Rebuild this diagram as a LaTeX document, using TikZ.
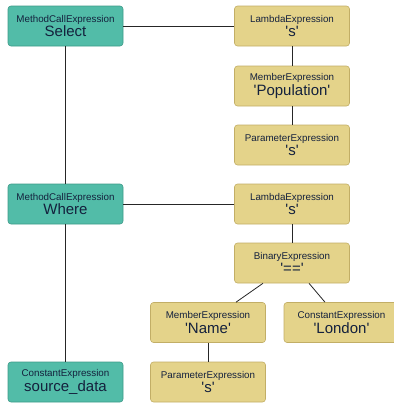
\documentclass[tikz,border=0pt]{standalone}
\usepackage{fontspec}
\setmainfont{Liberation Sans}
\usetikzlibrary{calc}

\definecolor{tealfill}{HTML}{52BCA8}
\definecolor{tealline}{HTML}{3E9A88}
\definecolor{sandfill}{HTML}{E4D38A}
\definecolor{sandline}{HTML}{C2AE66}
\definecolor{inktext}{HTML}{14213D}

\tikzset{
  exprnode/.style={rounded corners=3pt, minimum width=115pt, minimum height=40pt,
    inner sep=0pt, align=center, text=inktext, line width=0.6pt},
  callbox/.style={exprnode, fill=tealfill, draw=tealline},
  sandbox/.style={exprnode, fill=sandfill, draw=sandline},
  link/.style={line width=0.8pt, draw=black!85}
}
% kind of expression on top, its value below
\newcommand{\exprlbl}[2]{{\fontsize{9.8}{11}\selectfont #1}\\[1pt]{\fontsize{15}{15}\selectfont #2}}
% value in straight quotes
\newcommand{\qval}[1]{\textquotesingle#1\textquotesingle}

\begin{document}
\begin{tikzpicture}[x=1pt,y=-1pt]
    \useasboundingbox (0,0) rectangle (394,405);
    % the chain of method calls on the left
    \node[callbox] (select) at (65.5,26) {\exprlbl{MethodCallExpression}{Select}};
    \node[callbox] (where) at (65.5,204) {\exprlbl{MethodCallExpression}{Where}};
    \node[callbox] (source) at (65.5,382) {\exprlbl{ConstantExpression}{source\_data}};
    % the lambda of Select
    \node[sandbox] (lambdaA) at (292,26) {\exprlbl{LambdaExpression}{\qval{s}}};
    \node[sandbox] (memberA) at (292,86) {\exprlbl{MemberExpression}{\qval{Population}}};
    \node[sandbox] (paramA) at (292,145) {\exprlbl{ParameterExpression}{\qval{s}}};
    % the lambda of Where
    \node[sandbox] (lambdaB) at (292,204) {\exprlbl{LambdaExpression}{\qval{s}}};
    \node[sandbox] (binary) at (292,263) {\exprlbl{BinaryExpression}{\qval{==}}};
    \node[sandbox] (memberB) at (208,322.5) {\exprlbl{MemberExpression}{\qval{Name}}};
    \node[sandbox] (constB) at (341.5,322.5) {\exprlbl{ConstantExpression}{\qval{London}}};
    \node[sandbox] (paramB) at (208,382) {\exprlbl{ParameterExpression}{\qval{s}}};
    % connectors
    \draw[link] (select) -- (where);
    \draw[link] (where) -- (source);
    \draw[link] (select) -- (lambdaA);
    \draw[link] (lambdaA) -- (memberA);
    \draw[link] (memberA) -- (paramA);
    \draw[link] (where) -- (lambdaB);
    \draw[link] (lambdaB) -- (binary);
    \draw[link] ($(binary.south)+(-29,0)$) -- ($(memberB.north)+(28,0)$);
    \draw[link] ($(binary.south)+(17,0)$) -- ($(constB.north)+(-16.5,0)$);
    \draw[link] (memberB) -- (paramB);
\end{tikzpicture}
\end{document}
